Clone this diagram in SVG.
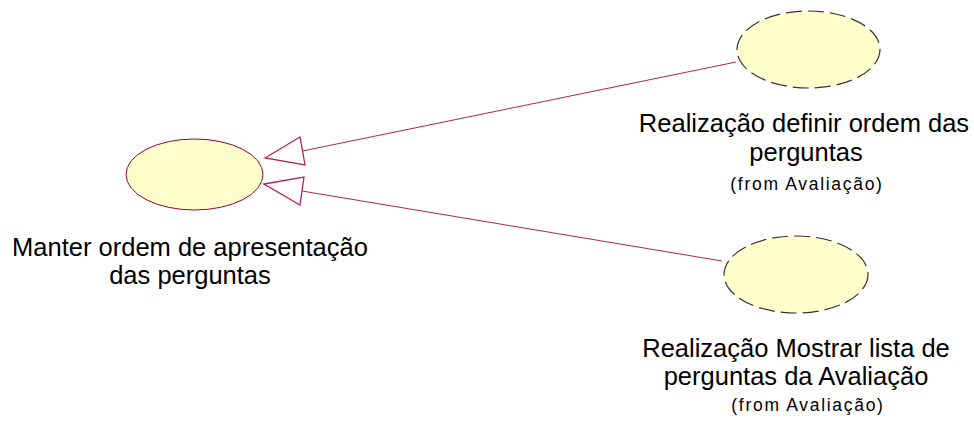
<svg xmlns="http://www.w3.org/2000/svg" width="974" height="421" viewBox="0 0 974 421">
<style>
.uc{fill:#ffffcc;stroke:#990033;stroke-width:1}
.ucd{fill:#ffffcc;stroke:#333333;stroke-width:1.2;stroke-dasharray:16 6}
.lbl{font-family:"Liberation Sans",Arial,sans-serif;font-size:25.5px;fill:#000;text-anchor:middle}
.from{font-family:"Liberation Sans",Arial,sans-serif;font-size:17.5px;fill:#000;text-anchor:middle;letter-spacing:1.7px}
.conn{stroke:#b0245a;stroke-width:1;fill:none}
.head{stroke:#b0245a;stroke-width:1.3;fill:#fff;stroke-linejoin:miter}
</style>
<rect width="974" height="421" fill="#fff"/>
<g id="connectors">
<line class="conn" x1="302.5" y1="151" x2="736" y2="62"/>
<polygon class="head" points="265,158 300,137 305,165"/>
<line class="conn" x1="302" y1="191" x2="722" y2="261"/>
<polygon class="head" points="264,184 304,177 300,205"/>
</g>
<g id="node-manter">
<ellipse class="uc" cx="194.5" cy="174.5" rx="68.5" ry="35.5"/>
<text class="lbl" x="190" y="256">Manter ordem de apresentação</text>
<text class="lbl" x="190" y="284">das perguntas</text>
</g>
<g id="node-definir">
<ellipse class="ucd" cx="808.5" cy="49.5" rx="71.5" ry="38.5"/>
<text class="lbl" x="804" y="132">Realização definir ordem das</text>
<text class="lbl" x="806" y="161">perguntas</text>
<text class="from" x="807" y="190">(from Avaliação)</text>
</g>
<g id="node-mostrar">
<ellipse class="ucd" cx="796" cy="274.5" rx="72" ry="38.5"/>
<text class="lbl" x="796" y="357">Realização Mostrar lista de</text>
<text class="lbl" x="796" y="385">perguntas da Avaliação</text>
<text class="from" x="808" y="411">(from Avaliação)</text>
</g>
</svg>
